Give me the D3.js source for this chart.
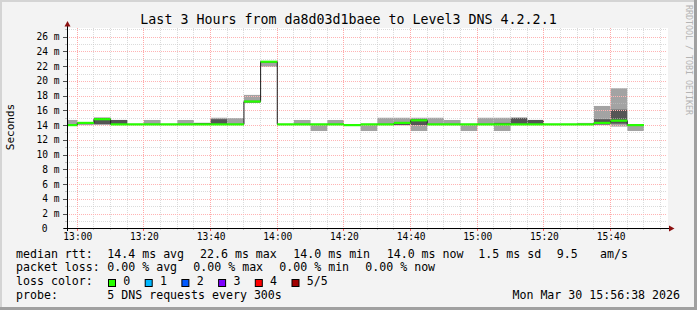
<!DOCTYPE html>
<html>
<head>
<meta charset="utf-8">
<script src="https://cdn.jsdelivr.net/npm/d3@7"></script>
<style>
  body { margin: 0; background: #ffffff; }
  svg { display: block; }
  text { font-family: "DejaVu Sans Mono", monospace; }
</style>
</head>
<body>
<script>
// canvas and plot box
var W = 697;
var H = 310;
var PlotLeft = 67;
var PlotRight = 667;
var PlotTop = 28;
var PlotBottom = 228.3;

// one slot every 5 minutes, 5 DNS pings each (sorted: ping1 .. ping5)
var slotStart = ["12:55", "13:00", "13:05", "13:10", "13:15", "13:20", "13:25",
  "13:30", "13:35", "13:40", "13:45", "13:50", "13:55", "14:00", "14:05",
  "14:10", "14:15", "14:20", "14:25", "14:30", "14:35", "14:40", "14:45",
  "14:50", "14:55", "15:00", "15:05", "15:10", "15:15", "15:20", "15:25",
  "15:30", "15:35", "15:40", "15:45"];
var median = [14.0, 14.3, 14.8, 14.1, 14.1, 14.1, 14.1, 14.1, 14.1, 14.1, 14.1,
  17.2, 22.6, 14.1, 14.1, 14.1, 14.1, 14.0, 14.1, 14.1, 14.3, 14.65, 14.1,
  14.1, 14.1, 14.1, 14.1, 14.1, 14.1, 14.1, 14.1, 14.1, 14.3, 14.6, 14.0];
var ping1 = [14.0, 14.0, 14.1, 14.1, 14.1, 14.1, 14.1, 14.1, 14.1, 14.1, 14.1,
  17.0, 21.9, 14.1, 14.1, 13.2, 14.1, 14.0, 13.2, 14.1, 14.0, 13.2, 14.1,
  14.1, 13.2, 14.1, 13.2, 14.1, 14.1, 14.1, 14.1, 14.1, 14.0, 13.8, 13.2];
var ping2 = [14.0, 14.15, 14.1, 14.1, 14.1, 14.1, 14.1, 14.1, 14.1, 14.1, 14.1,
  17.1, 22.5, 14.1, 14.1, 14.1, 14.1, 14.0, 14.1, 14.1, 14.0, 14.0, 14.1,
  14.1, 14.1, 14.1, 14.1, 14.1, 14.1, 14.1, 14.1, 14.1, 14.1, 14.2, 14.0];
var ping4 = [14.1, 14.3, 15.0, 14.7, 14.1, 14.1, 14.1, 14.1, 14.3, 14.8, 14.1,
  17.3, 22.6, 14.1, 14.1, 14.1, 14.1, 14.0, 14.1, 14.1, 14.4, 14.8, 14.1,
  14.1, 14.1, 14.1, 14.3, 15.0, 14.7, 14.1, 14.1, 14.1, 14.8, 16.1, 14.0];
var ping5 = [14.7, 14.3, 15.0, 14.7, 14.1, 14.7, 14.1, 14.7, 14.3, 15.0, 14.95,
  18.1, 22.7, 14.1, 14.7, 14.1, 14.7, 14.0, 14.1, 15.0, 15.0, 15.0, 15.0,
  14.7, 14.1, 15.0, 15.0, 15.0, 14.7, 14.1, 14.1, 14.3, 16.6, 19.0, 14.0];

var yTicks = [0, 2, 4, 6, 8, 10, 12, 14, 16, 18, 20, 22, 24, 26];
var xTickLabels = ["13:00", "13:20", "13:40", "14:00", "14:20", "14:40", "15:00", "15:20", "15:40"];
var lossLabels = ["0", "1", "2", "3", "4", "5/5"];
var lossColors = ["#26ff00", "#00b8ff", "#0059ff", "#7e00ff", "#ff0000", "#a10000"];

var parseHM = d3.timeParse("%H:%M");
var parseHMS = d3.timeParse("%H:%M:%S");

function main() {
  var svg = d3.select("body").append("svg")
      .attr("width", W)
      .attr("height", H);

  var xScale = d3.scaleTime()
      .domain([parseHMS("12:56:55"), parseHMS("15:56:55")])
      .range([PlotLeft, PlotRight]);
  // 7.37 px per ms
  var yScale = d3.scaleLinear()
      .domain([0, (PlotBottom - PlotTop) / 7.37])
      .range([PlotBottom, PlotTop]);

  frame(svg);
  smoke(svg, xScale, yScale);
  grid(svg, xScale, yScale);
  medianLine(svg, xScale, yScale);
  axes(svg, xScale, yScale);
  legend(svg);
}

function frame(svg) {
  svg.append("rect").attr("width", W).attr("height", H).attr("fill", "#f3f3f3");
  // 3d border
  svg.append("rect").attr("x", 0).attr("y", 0).attr("width", W).attr("height", 2).attr("fill", "#d4d4d4");
  svg.append("rect").attr("x", 0).attr("y", 0).attr("width", 2).attr("height", H).attr("fill", "#d4d4d4");
  svg.append("rect").attr("x", 0).attr("y", H - 3).attr("width", W).attr("height", 3).attr("fill", "#a0a0a0");
  svg.append("rect").attr("x", W - 3).attr("y", 0).attr("width", 3).attr("height", H).attr("fill", "#a0a0a0");
  svg.append("rect")
      .attr("x", PlotLeft).attr("y", PlotTop)
      .attr("width", PlotRight - PlotLeft + 1).attr("height", PlotBottom - PlotTop)
      .attr("fill", "#ffffff");

  svg.append("text")
      .attr("x", W / 2).attr("y", 24)
      .attr("text-anchor", "middle")
      .attr("font-size", "13.3px")
      .attr("fill", "#000")
      .text("Last 3 Hours from da8d03d1baee to Level3 DNS 4.2.2.1");

  svg.append("text")
      .attr("transform", "translate(14,127) rotate(-90)")
      .attr("text-anchor", "middle")
      .attr("font-size", "11px")
      .attr("fill", "#000")
      .text("Seconds");

  svg.append("text")
      .attr("transform", "translate(686,5) rotate(90)")
      .attr("text-anchor", "start")
      .attr("font-size", "8.3px")
      .attr("fill", "#b4b4b4")
      .text("RRDTOOL / TOBI OETIKER");
}

function slotX(i, xScale) {
  var t = parseHM(slotStart[i]);
  return [Math.max(PlotLeft, xScale(t)), xScale(d3.timeMinute.offset(t, 5))];
}

function smoke(svg, xScale, yScale) {
  var idx = d3.range(slotStart.length);
  // outer band ping1..ping5, inner band ping2..ping4
  svg.append("g").selectAll("rect")
      .data(idx)
      .enter()
      .append("rect")
      .attr("x", function(i) { return slotX(i, xScale)[0]; })
      .attr("width", function(i) { var s = slotX(i, xScale); return s[1] - s[0]; })
      .attr("y", function(i) { return yScale(ping5[i]); })
      .attr("height", function(i) { return yScale(ping1[i]) - yScale(ping5[i]); })
      .attr("fill", "#a3a3a3");
  svg.append("g").selectAll("rect")
      .data(idx)
      .enter()
      .append("rect")
      .attr("x", function(i) { return slotX(i, xScale)[0]; })
      .attr("width", function(i) { var s = slotX(i, xScale); return s[1] - s[0]; })
      .attr("y", function(i) { return yScale(ping4[i]); })
      .attr("height", function(i) { return yScale(ping2[i]) - yScale(ping4[i]); })
      .attr("fill", "#555555");
}

function grid(svg, xScale, yScale) {
  var g = svg.append("g").attr("shape-rendering", "crispEdges");
  var minorT = xScale.ticks(d3.timeMinute.every(5));
  var majorT = xScale.ticks(d3.timeMinute.every(20));
  var minorV = d3.range(1, 28);

  g.selectAll("line.vmin").data(minorT).enter().append("line")
      .attr("x1", function(d) { return Math.floor(xScale(d)) + 0.5; })
      .attr("x2", function(d) { return Math.floor(xScale(d)) + 0.5; })
      .attr("y1", PlotTop).attr("y2", PlotBottom)
      .attr("stroke", "#c4c4c4").attr("stroke-dasharray", "1,1").attr("opacity", 0.6);
  g.selectAll("line.hmin").data(minorV).enter().append("line")
      .attr("x1", PlotLeft).attr("x2", PlotRight)
      .attr("y1", function(d) { return Math.round(yScale(d)) + 0.5; })
      .attr("y2", function(d) { return Math.round(yScale(d)) + 0.5; })
      .attr("stroke", "#c4c4c4").attr("stroke-dasharray", "1,1").attr("opacity", 0.6);
  g.selectAll("line.vmaj").data(majorT).enter().append("line")
      .attr("x1", function(d) { return Math.floor(xScale(d)) + 0.5; })
      .attr("x2", function(d) { return Math.floor(xScale(d)) + 0.5; })
      .attr("y1", PlotTop).attr("y2", PlotBottom)
      .attr("stroke", "#ffa8a8").attr("stroke-dasharray", "1,1");
  g.selectAll("line.hmaj").data(yTicks.slice(1)).enter().append("line")
      .attr("x1", PlotLeft).attr("x2", PlotRight)
      .attr("y1", function(d) { return Math.round(yScale(d)) + 0.5; })
      .attr("y2", function(d) { return Math.round(yScale(d)) + 0.5; })
      .attr("stroke", "#ffb4b4").attr("stroke-dasharray", "1,1");
}

function medianLine(svg, xScale, yScale) {
  var pts = [];
  for (var i = 0; i < slotStart.length; i++) {
    var s = slotX(i, xScale);
    pts.push([s[0], yScale(median[i])]);
    pts.push([s[1], yScale(median[i])]);
  }
  svg.append("path")
      .attr("d", d3.line()(pts))
      .attr("fill", "none")
      .attr("stroke", "#1a1a1a")
      .attr("stroke-width", 1);

  svg.append("g").selectAll("line")
      .data(d3.range(slotStart.length))
      .enter()
      .append("line")
      .attr("x1", function(i) { return slotX(i, xScale)[0]; })
      .attr("x2", function(i) { return slotX(i, xScale)[1]; })
      .attr("y1", function(i) { return yScale(median[i]); })
      .attr("y2", function(i) { return yScale(median[i]); })
      .attr("stroke", lossColors[0])
      .attr("stroke-width", 2.2);
}

function axes(svg, xScale, yScale) {
  var g = svg.append("g").attr("shape-rendering", "crispEdges");
  // y ticks and labels
  g.selectAll("line.yt").data(d3.range(0, 28)).enter().append("line")
      .attr("x1", function(d) { return d % 2 ? PlotLeft - 2 : PlotLeft - 4; })
      .attr("x2", PlotLeft)
      .attr("y1", function(d) { return Math.round(yScale(d)) + 0.5; })
      .attr("y2", function(d) { return Math.round(yScale(d)) + 0.5; })
      .attr("stroke", function(d) { return d % 2 ? "#c0c0c0" : "#505050"; });
  svg.selectAll("text.ylab").data(yTicks).enter().append("text")
      .attr("x", function(d) { return d === 0 ? 47.5 : 59.5; })
      .attr("y", function(d) { return yScale(d) + 3.5; })
      .attr("text-anchor", "end")
      .attr("font-size", "9.6px")
      .attr("fill", "#000")
      .text(function(d) { return d === 0 ? "0" : d + " m"; });

  // x ticks and labels
  var minorT = xScale.ticks(d3.timeMinute.every(5));
  g.selectAll("line.xt").data(minorT).enter().append("line")
      .attr("x1", function(d) { return Math.floor(xScale(d)) + 0.5; })
      .attr("x2", function(d) { return Math.floor(xScale(d)) + 0.5; })
      .attr("y1", PlotBottom)
      .attr("y2", function(d) { return d.getMinutes() % 20 ? PlotBottom + 2 : PlotBottom + 3; })
      .attr("stroke", function(d) { return d.getMinutes() % 20 ? "#c0c0c0" : "#ff6060"; });
  svg.selectAll("text.xlab").data(xTickLabels).enter().append("text")
      .attr("x", function(d) { return xScale(parseHM(d)) + 0.5; })
      .attr("y", 240)
      .attr("text-anchor", "middle")
      .attr("font-size", "9.6px")
      .attr("fill", "#000")
      .text(function(d) { return d; });

  // axis lines and arrows
  g.append("line").attr("x1", PlotLeft - 3).attr("x2", 670)
      .attr("y1", 228.5).attr("y2", 228.5).attr("stroke", "#000");
  g.append("line").attr("x1", PlotLeft + 0.5).attr("x2", PlotLeft + 0.5)
      .attr("y1", 231).attr("y2", 25).attr("stroke", "#000");
  svg.append("path").attr("d", "M669,225.5 L674.5,228.5 L669,231.5 Z").attr("fill", "#8b1010");
  svg.append("path").attr("d", "M64.5,26.5 L67.5,21 L70.5,26.5 Z").attr("fill", "#8b1010");
}

function legend(svg) {
  var rows = [257.5, 271.2, 285, 298.7];
  var items = [
    [16, rows[0], "median rtt:"], [107.3, rows[0], "14.4 ms avg"], [200, rows[0], "22.6 ms max"],
    [293.3, rows[0], "14.0 ms min"], [386.7, rows[0], "14.0 ms now"], [478.3, rows[0], "1.5 ms sd"],
    [556.7, rows[0], "9.5"], [600, rows[0], "am/s"],
    [16, rows[1], "packet loss:"], [107.3, rows[1], "0.00 % avg"], [193.3, rows[1], "0.00 % max"],
    [279.3, rows[1], "0.00 % min"], [365.3, rows[1], "0.00 % now"],
    [16, rows[2], "loss color:"],
    [16, rows[3], "probe:"], [107.3, rows[3], "5 DNS requests every 300s"]
  ];
  svg.selectAll("text.leg").data(items).enter().append("text")
      .attr("x", function(d) { return d[0]; })
      .attr("y", function(d) { return d[1]; })
      .attr("font-size", "11.6px")
      .attr("fill", "#000")
      .text(function(d) { return d[2]; });

  svg.append("text")
      .attr("x", 680).attr("y", rows[3])
      .attr("text-anchor", "end")
      .attr("font-size", "11.6px")
      .attr("fill", "#000")
      .text("Mon Mar 30 15:56:38 2026");

  var sw = svg.append("g").selectAll("g")
      .data(lossLabels)
      .enter()
      .append("g")
      .attr("transform", function(d, i) { return "translate(" + (108.5 + i * 36.7) + ",0)"; });
  sw.append("rect")
      .attr("x", 0).attr("y", 279.5)
      .attr("width", 7).attr("height", 7)
      .attr("fill", function(d, i) { return lossColors[i]; })
      .attr("stroke", "#000")
      .attr("stroke-width", 1);
  sw.append("text")
      .attr("x", 14.8).attr("y", rows[2])
      .attr("font-size", "11.6px")
      .attr("fill", "#000")
      .text(function(d) { return d; });
}

main();
</script>
</body>
</html>
